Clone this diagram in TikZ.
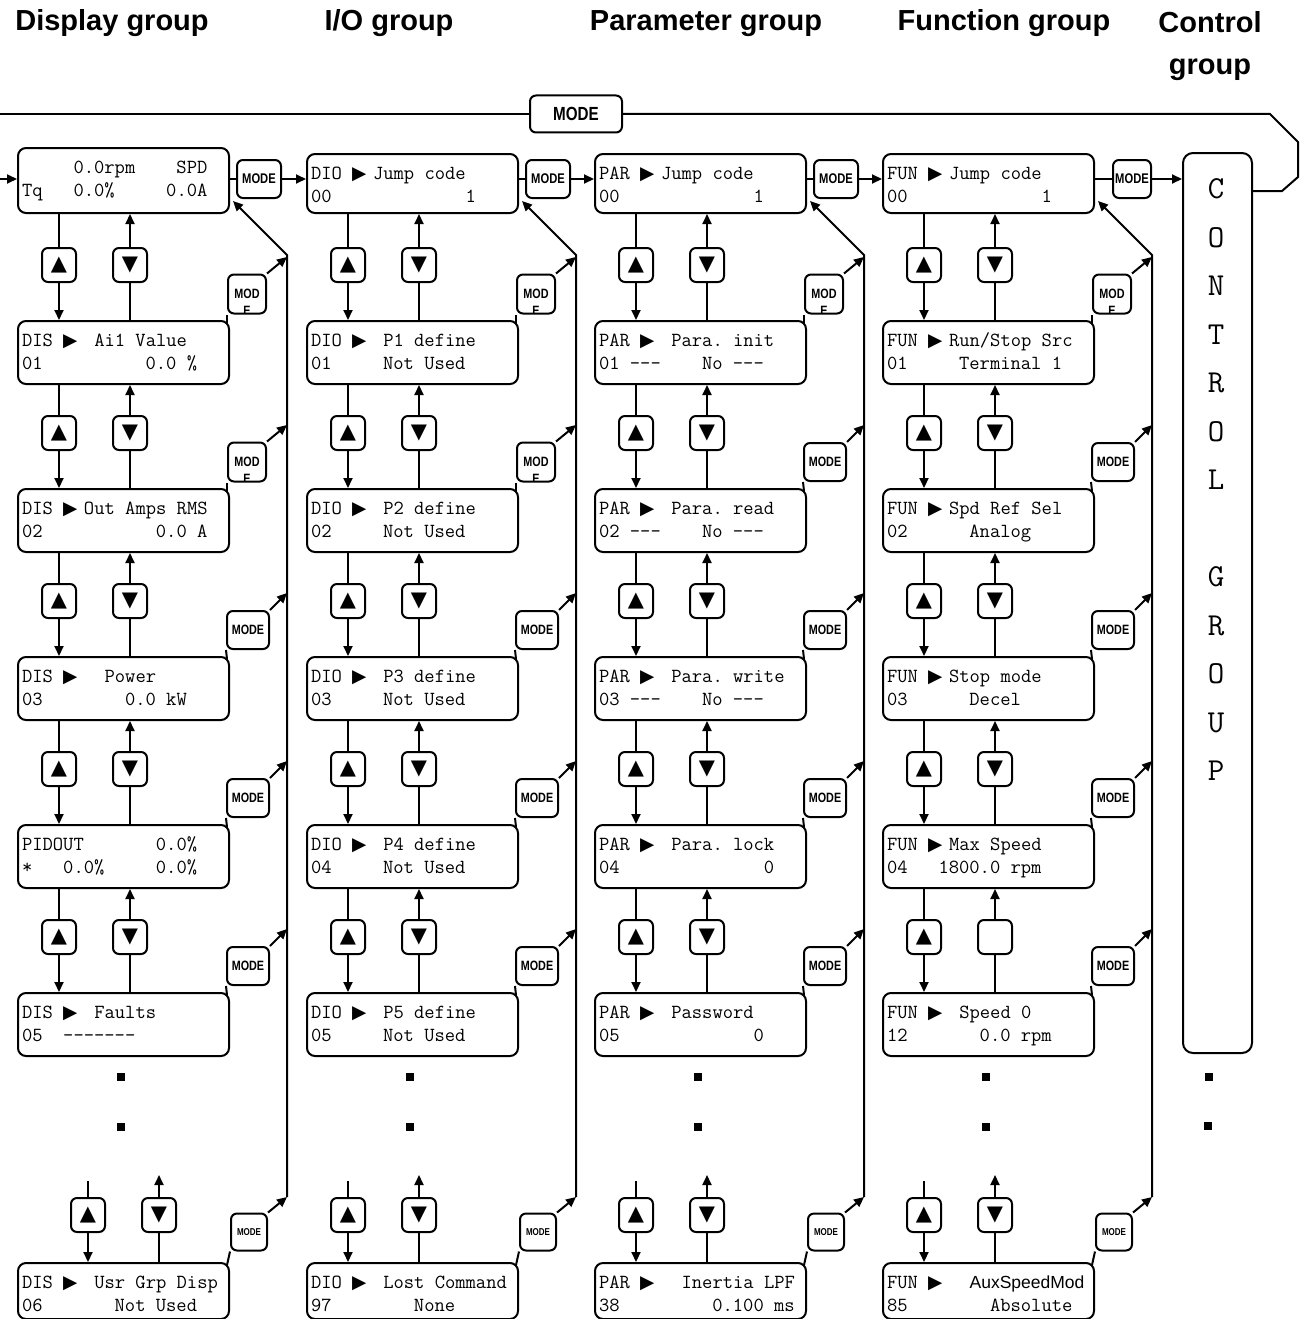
\documentclass[tikz,border=0pt]{standalone}
\usepackage{fontspec}
\usetikzlibrary{arrows.meta,positioning,calc}
\newfontfamily\headfont{Liberation Sans}
\newfontfamily\keyfont[FakeStretch=0.8]{Liberation Sans}
\newfontfamily\glyphfont{DejaVu Sans}
% one display cell with the arrow mark
\newcommand\tri{\makebox[10.5pt][l]{\glyphfont\fontsize{18.5}{18.5}\selectfont ▶}}
\newcommand\hy{\mbox{-}}
\newcommand\lcdtext[3][15pt]{\rule{0pt}{25pt}#2\\\relax #3\rule[-#1]{0pt}{#1}}
\newcommand\upmark{{\glyphfont\fontsize{21}{21}\selectfont ▲}}
\newcommand\dnmark{{\glyphfont\fontsize{21}{21}\selectfont ▼}}

\begin{document}
\begin{tikzpicture}[x=1pt,y=-1pt,line width=2pt,
    lcd/.style={draw,rounded corners=8pt,anchor=north west,inner xsep=4pt,inner ysep=0pt,
        text width=203pt,align=flush left,font=\ttfamily\fontsize{20}{23}\selectfont\frenchspacing},
    keybtn/.style={draw,fill=white,rounded corners=6pt,minimum size=34pt,inner sep=0pt},
    modebase/.style={draw,fill=white,rounded corners=6pt,inner sep=0pt,font=\keyfont\bfseries\fontsize{13.5}{17}\selectfont},
    modekey/.style={modebase,minimum width=42pt,minimum height=38pt},
    modecut/.style={modebase,minimum width=38pt,minimum height=39pt,
        path picture={\node[align=center,inner sep=0pt] at ([yshift=-8.5pt]path picture bounding box.center) {MOD\\E};}},
    modeend/.style={modebase,minimum width=36pt,minimum height=37pt,font=\keyfont\bfseries\fontsize{10}{10}\selectfont},
    hmode/.style={modebase,minimum width=44pt,minimum height=38pt,font=\keyfont\bfseries\fontsize{14}{14}\selectfont},
    topmode/.style={modebase,minimum width=92pt,minimum height=37pt,font=\keyfont\bfseries\fontsize{19}{19}\selectfont},
    ctrlbox/.style={draw,rounded corners=10pt,anchor=north west,minimum width=69pt,minimum height=900pt,inner sep=0pt},
    ctrltxt/.style={anchor=north,align=center,inner sep=0pt,font=\ttfamily\fontsize{32}{48.5}\selectfont},
    grouphead/.style={font=\headfont\bfseries\fontsize{29}{42}\selectfont,inner sep=0pt},
    dotmark/.style={fill,minimum size=8pt,inner sep=0pt},
    arr/.style={-{Triangle[length=10pt,width=9pt]}}]
    \useasboundingbox (0,0) rectangle (1303,1319);
    \clip (0,0) rectangle (1303,1319);

    % Group titles
    \node[grouphead,anchor=base] (hdis) at (112,31) {Display group};
    \node[grouphead,anchor=base] (hio) at (389,31) {I/O group};
    \node[grouphead,anchor=base] (hpar) at (706,31) {Parameter group};
    \node[grouphead,anchor=base] (hfun) at (1004,31) {Function group};
    \node[grouphead,anchor=north,align=center] (hctl) at (1210,10) {Control\\group};

    % Display group
    \node[lcd] (b10) at (17,147) {\lcdtext[17pt]{~~~~~0.0rpm~~~~SPD}{Tq~~~0.0\%~~~~~0.0A}};
    \node[lcd] (b11) at (17,320) {\lcdtext{DIS~\tri~~Ai1 Value}{01~~~~~~~~~~0.0 \%}};
    \node[lcd] (b12) at (17,488) {\lcdtext{DIS~\tri~Out Amps RMS}{02~~~~~~~~~~~0.0 A}};
    \node[lcd] (b13) at (17,656) {\lcdtext{DIS~\tri~~~Power}{03~~~~~~~~0.0 kW}};
    \node[lcd] (b14) at (17,824) {\lcdtext{PIDOUT~~~~~~~0.0\%}{*~~~0.0\%~~~~~0.0\%}};
    \node[lcd] (b15) at (17,992) {\lcdtext{DIS~\tri~~Faults}{05~~\hy\hy\hy\hy\hy\hy\hy}};
    \node[lcd] (b16) at (17,1262) {\lcdtext[8pt]{DIS~\tri~~Usr Grp Disp}{06~~~~~~~Not Used}};

    % I/O group
    \node[lcd] (b20) at (306,153) {\lcdtext[11pt]{DIO~\tri~Jump code}{00~~~~~~~~~~~~~1}};
    \node[lcd] (b21) at (306,320) {\lcdtext{DIO~\tri~~P1 define}{01~~~~~Not Used}};
    \node[lcd] (b22) at (306,488) {\lcdtext{DIO~\tri~~P2 define}{02~~~~~Not Used}};
    \node[lcd] (b23) at (306,656) {\lcdtext{DIO~\tri~~P3 define}{03~~~~~Not Used}};
    \node[lcd] (b24) at (306,824) {\lcdtext{DIO~\tri~~P4 define}{04~~~~~Not Used}};
    \node[lcd] (b25) at (306,992) {\lcdtext{DIO~\tri~~P5 define}{05~~~~~Not Used}};
    \node[lcd] (b26) at (306,1262) {\lcdtext[8pt]{DIO~\tri~~Lost Command}{97~~~~~~~~None}};

    % Parameter group
    \node[lcd] (b30) at (594,153) {\lcdtext[11pt]{PAR~\tri~Jump code}{00~~~~~~~~~~~~~1}};
    \node[lcd] (b31) at (594,320) {\lcdtext{PAR~\tri~~Para. init}{01~\hy\hy\hy~~~~No~\hy\hy\hy}};
    \node[lcd] (b32) at (594,488) {\lcdtext{PAR~\tri~~Para. read}{02~\hy\hy\hy~~~~No~\hy\hy\hy}};
    \node[lcd] (b33) at (594,656) {\lcdtext{PAR~\tri~~Para. write}{03~\hy\hy\hy~~~~No~\hy\hy\hy}};
    \node[lcd] (b34) at (594,824) {\lcdtext{PAR~\tri~~Para. lock}{04~~~~~~~~~~~~~~0}};
    \node[lcd] (b35) at (594,992) {\lcdtext{PAR~\tri~~Password}{05~~~~~~~~~~~~~0}};
    \node[lcd] (b36) at (594,1262) {\lcdtext[8pt]{PAR~\tri~~~Inertia LPF}{38~~~~~~~~~0.100 ms}};

    % Function group
    \node[lcd] (b40) at (882,153) {\lcdtext[11pt]{FUN~\tri~Jump code}{00~~~~~~~~~~~~~1}};
    \node[lcd] (b41) at (882,320) {\lcdtext{FUN~\tri~Run/Stop Src}{01~~~~~Terminal 1}};
    \node[lcd] (b42) at (882,488) {\lcdtext{FUN~\tri~Spd Ref Sel}{02~~~~~~Analog}};
    \node[lcd] (b43) at (882,656) {\lcdtext{FUN~\tri~Stop mode}{03~~~~~~Decel}};
    \node[lcd] (b44) at (882,824) {\lcdtext{FUN~\tri~Max Speed}{04~~~1800.0 rpm}};
    \node[lcd] (b45) at (882,992) {\lcdtext{FUN~\tri~~Speed 0}{12~~~~~~~0.0 rpm}};
    \node[lcd] (b46) at (882,1262) {\lcdtext[8pt]{FUN~\tri~~~{\headfont\fontsize{17.5}{17.5}\selectfont AuxSpeedMod}}{85~~~~~~~~Absolute}};

    % Control group
    \node[ctrlbox] (ctrl) at (1182,152) {};
    \node[ctrltxt] (ctrlname) at (1216,178) {C\\O\\N\\T\\R\\O\\L\\\mbox{}\\G\\R\\O\\U\\P};
    \node[dotmark] (dotactl) at (1209,1077) {};
    \node[dotmark] (dotbctl) at (1208,1126) {};

    % Up and down keys between the rows
    \foreach \cl/\x in {1/17,2/306,3/594,4/882} {
        \foreach \rw [evaluate=\rw as \nx using int(\rw+1)] in {0,...,4} {
            \node[keybtn] (u\cl\rw) at (\x+42,265+168*\rw) {\upmark};
            \node[keybtn] (d\cl\rw) at (\x+113,265+168*\rw) {\ifnum\cl\rw=44 \else\dnmark\fi};
            \draw (b\cl\rw.south -| u\cl\rw) -- (u\cl\rw.north);
            \draw[arr] (u\cl\rw.south) -- (u\cl\rw |- b\cl\nx.north);
            \draw (d\cl\rw |- b\cl\nx.north) -- (d\cl\rw.south);
            \draw[arr] (d\cl\rw.north) -- (d\cl\rw |- b\cl\rw.south);
        }
    }

    % MODE keys beside the rows
    \foreach \cl/\x in {1/228,2/517,3/805,4/1093} {
        \foreach \rw in {1,...,5} {
            \pgfmathtruncatemacro\iscut{(\rw==1)||((\rw==2)&&(\cl<3))}
            \ifnum\iscut=1
                \node[modecut] (m\cl\rw) at (\x+19,126+168*\rw) {};
            \else
                \node[modekey] (m\cl\rw) at (\x+20,126+168*\rw) {MODE};
            \fi
            \draw ([shift={(-3pt,-3pt)}]b\cl\rw.north east) -- (m\cl\rw.south west);
            \draw[arr] (m\cl\rw.north east) -- (\x+59,89+168*\rw);
        }
        % return line to the first row
        \draw[arr] (\x+59,1197) -- (\x+59,255) -- ([shift={(3pt,13pt)}]b\cl0.south east);
    }

    % Last rows
    \foreach \cl/\x/\dx in {1/17/29,2/306/0,3/594/0,4/882/0} {
        \node[dotmark] (dota\cl) at (\x+104,1077) {};
        \node[dotmark] (dotb\cl) at (\x+104,1127) {};
        \node[keybtn] (u\cl6) at (\x+42+\dx,1215) {\upmark};
        \node[keybtn] (d\cl6) at (\x+113+\dx,1215) {\dnmark};
        \node[modeend] (m\cl6) at (\x+232,1232) {MODE};
        \draw ([yshift=16pt]u\cl6.north) -- (u\cl6.north);
        \draw[arr] (u\cl6.south) -- (u\cl6 |- b\cl6.north);
        \draw (d\cl6 |- b\cl6.north) -- (d\cl6.south);
        \draw[arr] (d\cl6.north) -- ([yshift=22pt]d\cl6.north);
        \draw ([shift={(-3pt,-3pt)}]b\cl6.north east) -- (m\cl6.south west);
        \draw[arr] (m\cl6.north east) -- (\x+270,1197);
    }

    % MODE keys between the groups
    \node[hmode] (hm1) at (259,179) {MODE};
    \node[hmode] (hm2) at (548,179) {MODE};
    \node[hmode] (hm3) at (836,179) {MODE};
    \node[hmode,minimum width=38pt] (hm4) at (1132,179) {MODE};
    \foreach \cl/\nx in {1/b20,2/b30,3/b40,4/ctrl} {
        \draw (b\cl0.east |- hm\cl.west) -- (hm\cl.west);
        \draw[arr] (hm\cl.east) -- (hm\cl.east -| \nx.west);
    }

    % Loop back to the display group
    \node[topmode] (mtop) at (576,114) {MODE};
    \draw (ctrl.east |- 0,191) -- (1282,191) -- (1298,177) -- (1298,142) -- (1270,114) -- (mtop.east);
    \draw[arr] (mtop.west) -- (-20,114) -- (-20,179) -- (b10.west |- 0,179);
\end{tikzpicture}
\end{document}
